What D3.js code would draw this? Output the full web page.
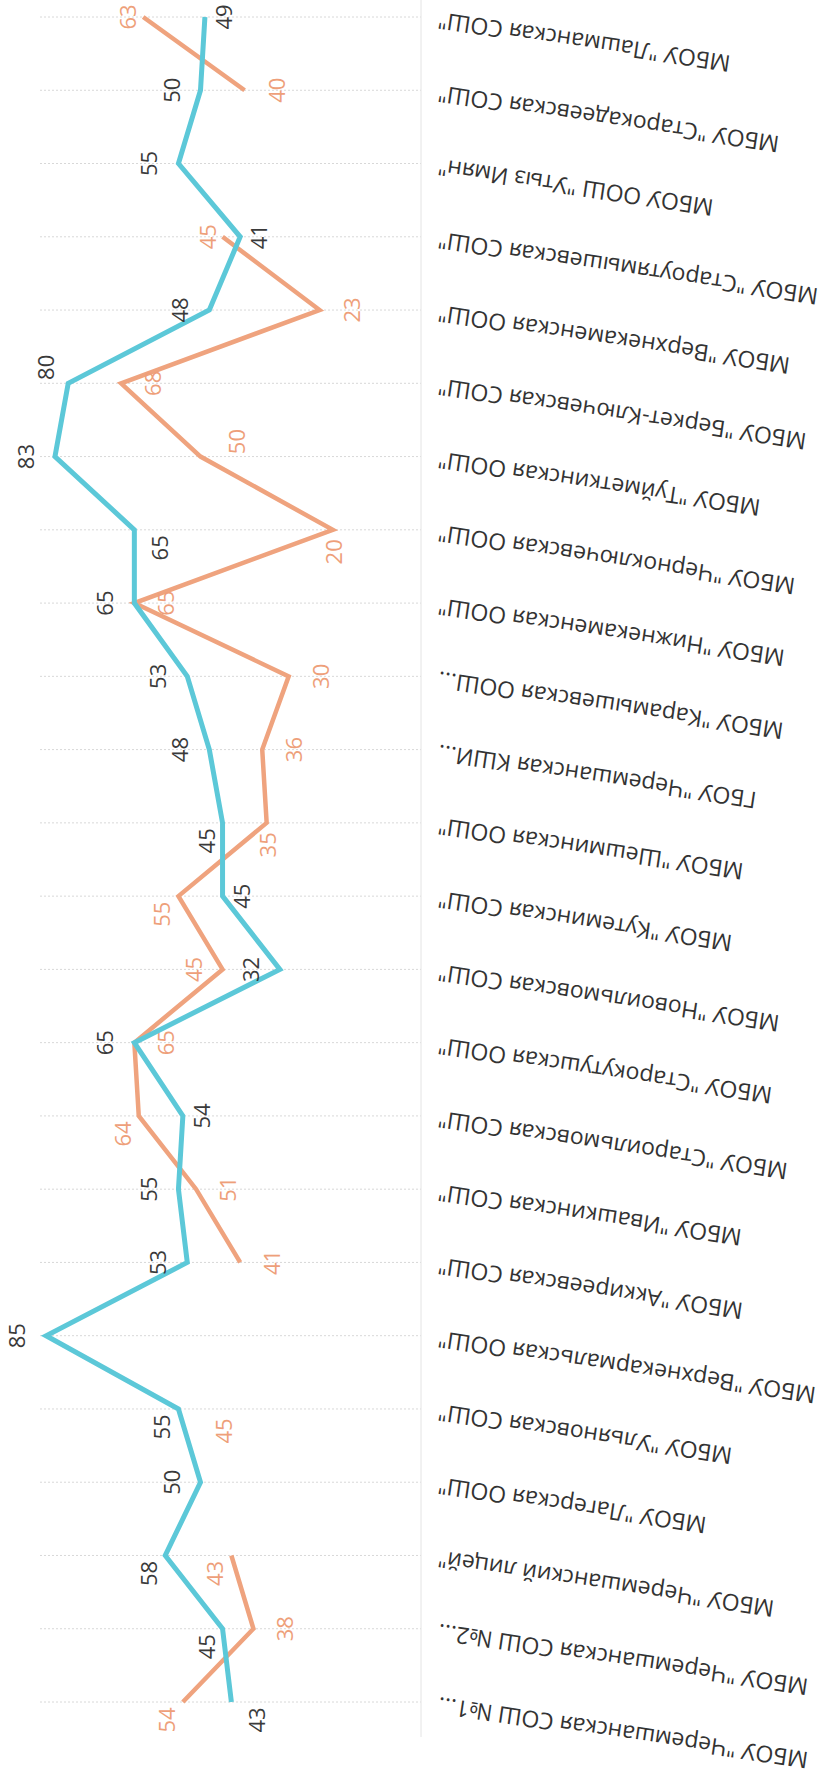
<!DOCTYPE html>
<html><head><meta charset="utf-8">
<script src="https://cdn.jsdelivr.net/npm/d3@7"></script>
<style>body{margin:0;background:#fff}</style>
</head><body>
<svg id="chart" width="830" height="1779"></svg>
<script>
// Categories in original chart order (first one is drawn at the bottom)
const categories = [
  'МБОУ "Черемшанская СОШ №1...',
  'МБОУ "Черемшанская СОШ №2...',
  'МБОУ "Черемшанский лицей"',
  'МБОУ "Лагерская ООШ"',
  'МБОУ "Ульяновская СОШ"',
  'МБОУ "Верхнекармальская ООШ"',
  'МБОУ "Аккиреевская СОШ"',
  'МБОУ "Ивашкинская СОШ"',
  'МБОУ "Староильмовская СОШ"',
  'МБОУ "Старокутушская ООШ"',
  'МБОУ "Новоильмовская СОШ"',
  'МБОУ "Кутеминская СОШ"',
  'МБОУ "Шешминская ООШ"',
  'ГБОУ "Черемшанская КШИ...',
  'МБОУ "Карамышевская ООШ...',
  'МБОУ "Нижнекаменская ООШ"',
  'МБОУ "Черноключевская ООШ"',
  'МБОУ "Туйметкинская ООШ"',
  'МБОУ "Беркет-Ключевская СОШ"',
  'МБОУ "Верхнекаменская ООШ"',
  'МБОУ "Староутямышевская СОШ"',
  'МБОУ ООШ "Утыз Имян"',
  'МБОУ "Старокадеевская СОШ"',
  'МБОУ "Лашманская СОШ"'
];
const seriesA = [43,45,58,50,55,85,53,55,54,65,32,45,45,48,53,65,65,83,80,48,41,55,50,49];
const seriesB = [54,38,43,null,45,null,41,51,64,65,45,55,35,36,30,65,20,50,68,23,45,null,40,63];
// label placement codes (relative to point)
const labelPosA = ['RB','LB','LB','L','LB','L','L','L','r','L','L','r','LB','L','L','L','RB','L','LT','L','r','L','L','r'];
const labelPosB = ['LB','R','LB',null,'B',null,'R','R','LB','R','L','LB','B','R','R','R','B','RT','R','R','l',null,'R','l'];

const W = 830, H = 1779;
const svg = d3.select('#chart');
svg.append('rect').attr('width', W).attr('height', H).attr('fill', '#fff');

const x = d3.scaleLinear().domain([0, 100]).range([421, -20]);
const y = d3.scalePoint().domain(categories).range([1702, 17]);

const offsets = {L:[-30,0], l:[-16,0], R:[31,0], r:[18,0], LB:[-17,18], RB:[25,18], LT:[-23,-16], RT:[35,-15], B:[0,22]};

// grid lines
svg.append('g').selectAll('line').data(categories).join('line')
  .attr('x1', 40).attr('x2', x(0))
  .attr('y1', d => y(d)).attr('y2', d => y(d))
  .attr('stroke', '#d8d8d8').attr('stroke-width', 1).attr('stroke-dasharray', '2,2');

// category axis line
svg.append('line').attr('x1', x(0)).attr('x2', x(0)).attr('y1', 0).attr('y2', 1737)
  .attr('stroke', '#e4e4e4').attr('stroke-width', 1);

// category labels (photo is rotated, labels upside down with slight tilt)
svg.append('g').selectAll('text').data(categories).join('text')
  .attr('transform', d => `translate(438,${y(d) + 4}) rotate(188.5)`)
  .attr('text-anchor', 'end')
  .attr('dominant-baseline', 'central')
  .attr('font-family', '"Open Sans", "Noto Sans", sans-serif')
  .attr('font-size', 23)
  .attr('fill', '#333')
  .text(d => d);

const line = d3.line()
  .defined(d => d.v != null)
  .x(d => x(d.v)).y(d => y(d.c));

function drawSeries(vals, color, width, pos, textColor) {
  const data = categories.map((c, i) => ({c, v: vals[i], p: pos[i]}));
  svg.append('path').datum(data)
    .attr('d', line).attr('fill', 'none')
    .attr('stroke', color).attr('stroke-width', width)
    .attr('stroke-linejoin', 'miter').attr('stroke-linecap', 'butt');
  svg.append('g').selectAll('text').data(data.filter(d => d.v != null)).join('text')
    .attr('transform', d => {
      const o = offsets[d.p] || [0,0];
      return `translate(${x(d.v) + o[0]},${y(d.c) + o[1]}) rotate(-90)`;
    })
    .attr('text-anchor', 'middle')
    .attr('dominant-baseline', 'central')
    .attr('font-family', '"Open Sans", "Noto Sans", sans-serif')
    .attr('font-size', 22)
    .attr('fill', textColor)
    .text(d => d.v);
}

drawSeries(seriesB, '#EFA37E', 4.5, labelPosB, '#EE9F7A');
drawSeries(seriesA, '#5CC8D8', 5, labelPosA, '#3a3a3a');
</script>
</body></html>
